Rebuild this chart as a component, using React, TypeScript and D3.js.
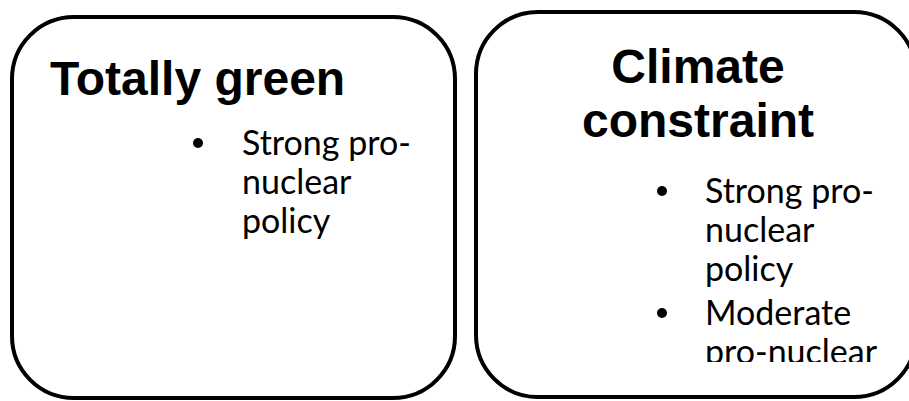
import React, { useEffect, useRef } from "react";
import * as d3 from "d3";

const titles = [["Totally green"], ["Climate", "constraint"]];
const bullets = [
  [["Strong pro-", "nuclear", "policy"]],
  [
    ["Strong pro-", "nuclear", "policy"],
    ["Moderate", "pro-nuclear"],
  ],
];

const W = 909;
const H = 401;

export default function App() {
  const svgRef = useRef<SVGSVGElement>(null);

  useEffect(() => {
    if (!svgRef.current) return;
    const svg = d3.select(svgRef.current);
    svg.selectAll("*").remove();

    svg.append("rect").attr("width", W).attr("height", H).attr("fill", "#fff");

    const boxes = [
      { x: 12, y: 17, w: 443, h: 381, titleX: 50, titleAnchor: "start", titleY: 95, bulletX: 198, textX: 242, firstY: 155, clipBottom: 400 },
      { x: 476, y: 12, w: 440, h: 385, titleX: 698, titleAnchor: "middle", titleY: 83, bulletX: 662, textX: 705, firstY: 203, clipBottom: 362 },
    ];

    const defs = svg.append("defs");

    boxes.forEach((b, i) => {
      defs
        .append("clipPath")
        .attr("id", `clip-${i}`)
        .append("rect")
        .attr("x", b.x)
        .attr("y", b.y)
        .attr("width", b.w)
        .attr("height", b.clipBottom - b.y);

      svg
        .append("rect")
        .attr("x", b.x)
        .attr("y", b.y)
        .attr("width", b.w)
        .attr("height", b.h)
        .attr("rx", 62)
        .attr("ry", 62)
        .attr("fill", "#fff")
        .attr("stroke", "#000")
        .attr("stroke-width", 4);

      const g = svg.append("g");
      titles[i].forEach((t, j) => {
        g.append("text")
          .attr("x", b.titleX)
          .attr("y", b.titleY + j * 54)
          .attr("text-anchor", b.titleAnchor)
          .attr("font-family", "'Liberation Sans', Arial, sans-serif")
          .attr("font-weight", "bold")
          .attr("font-size", 48)
          .attr("fill", "#000")
          .text(t);
      });

      const bg = svg.append("g").attr("clip-path", `url(#clip-${i})`);
      let y = b.firstY;
      bullets[i].forEach((lines) => {
        bg.append("circle")
          .attr("cx", b.bulletX)
          .attr("cy", y - 12)
          .attr("r", 5)
          .attr("fill", "#000");
        lines.forEach((line) => {
          bg.append("text")
            .attr("x", b.textX)
            .attr("y", y)
            .attr("font-family", "Lato, 'Noto Sans', sans-serif")
            .attr("font-size", 34)
            .attr("fill", "#000")
            .text(line);
          y += 39;
        });
        y += 5;
      });
    });
  }, []);

  return (
    <svg
      ref={svgRef}
      width={W}
      height={H}
      style={{ position: "absolute", left: 0, top: 0, display: "block" }}
    />
  );
}
